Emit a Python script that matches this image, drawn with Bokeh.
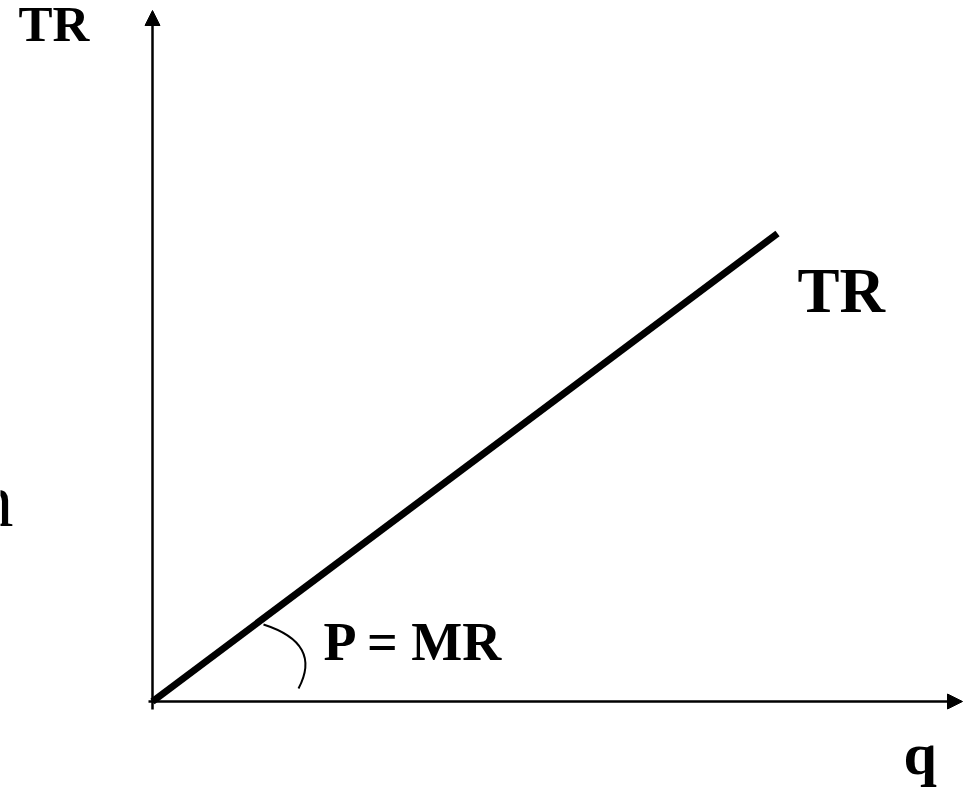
from bokeh.plotting import figure
from bokeh.models import Range1d, Arrow, NormalHead
from bokeh.core.properties import value
from bokeh.embed import file_html
from bokeh.resources import INLINE

# ---- data (units: px-like diagram units, origin at the axes corner) ----
tr_q = [0, 625]
tr_values = [0, 468]

axis_q = [-4, 810]        # horizontal axis start/end (q)
axis_tr = [-8, 691]       # vertical axis start/end (TR)

arc_start = (111, 77)
arc_ctrl = (170, 58)
arc_end = (146, 13)

labels = ["TR", "TR", "P = MR", "q"]
label_x = [-134, 645, 171, 751]
label_y = [678, 411, 60, -52]
label_size = ["51px", "63px", "54px", "60px"]

side_label = "n"
side_x = -139
side_y = 202

# ---- canvas placement ----
W, H = 967, 793
ox, oy = 152, 701  # origin pixel position on the canvas

p = figure(width=W, height=H, output_backend="svg", toolbar_location=None,
           x_axis_type=None, y_axis_type=None, min_border=0,
           x_range=Range1d(-ox, W - ox), y_range=Range1d(oy - H, oy),
           styles={"position": "absolute", "left": "0px", "top": "0px"})
p.grid.visible = False
p.outline_line_color = None
p.background_fill_color = "white"
p.border_fill_color = "white"

# axes with arrow heads
p.add_layout(Arrow(end=NormalHead(size=15, fill_color="black", line_color="black", line_width=1),
                   x_start=axis_q[0], y_start=0, x_end=axis_q[1], y_end=0,
                   line_width=2.5, line_color="black"))
p.add_layout(Arrow(end=NormalHead(size=15, fill_color="black", line_color="black", line_width=1),
                   x_start=0, y_start=axis_tr[0], x_end=0, y_end=axis_tr[1],
                   line_width=2.5, line_color="black"))

# TR line
p.line(tr_q, tr_values, line_width=7, line_color="black")

# angle arc
p.quadratic(x0=[arc_start[0]], y0=[arc_start[1]], x1=[arc_end[0]], y1=[arc_end[1]],
            cx=[arc_ctrl[0]], cy=[arc_ctrl[1]], line_width=2, line_color="black")

# labels
for t, x, y, s in zip(labels, label_x, label_y, label_size):
    p.text(x=[x], y=[y], text=[t], text_font=value("Liberation Serif"),
           text_font_style="bold", text_font_size=s, text_color="black",
           text_align="left", text_baseline="alphabetic")

p.text(x=[side_x], y=[side_y], text=[side_label], text_font=value("Liberation Serif"),
       text_font_size="76px", text_color="black",
       text_align="right", text_baseline="alphabetic")

open("out.html", "w").write(file_html(p, INLINE))
